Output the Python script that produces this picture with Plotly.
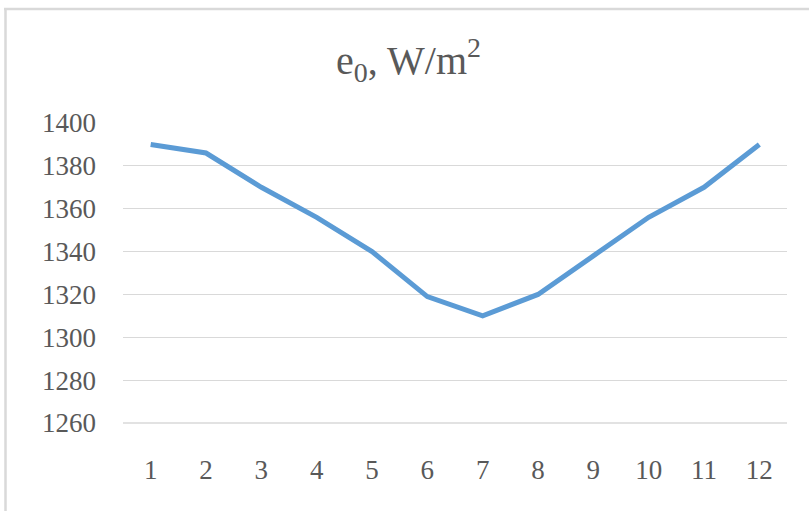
import plotly.graph_objects as go

# Monthly extraterrestrial irradiance
months = ["1", "2", "3", "4", "5", "6", "7", "8", "9", "10", "11", "12"]
irradiance = [1390, 1386, 1370, 1356, 1340, 1319, 1310, 1320, 1338, 1356, 1370, 1390]
y_ticks = [1260, 1280, 1300, 1320, 1340, 1360, 1380, 1400]

W, H = 809, 511
ML, MR, MT, MB = 123, 22, 123, 88
pw, ph = W - ML - MR, H - MT - MB

def px_x(x):
    return (x - ML) / pw

def px_y(y):
    return (H - MB - y) / ph

fig = go.Figure()
fig.add_trace(go.Scatter(
    x=months, y=irradiance, mode="lines",
    line=dict(color="#5B9BD5", width=5),
    hoverinfo="x+y",
))

font_family = "Liberation Serif"
border = "#D9D9D9"

fig.update_layout(
    width=W, height=H,
    margin=dict(l=ML, r=MR, t=MT, b=MB),
    paper_bgcolor="white", plot_bgcolor="white",
    showlegend=False,
    title=dict(
        text="e<sub>0</sub>, W/m<sup>2</sup>",
        font=dict(family=font_family, size=40, color="#595959"),
        x=0.505, xanchor="center", xref="container",
        y=1 - 60 / H, yanchor="middle", yref="container",
    ),
    xaxis=dict(
        type="category",
        range=[-0.5, len(months) - 0.5],
        showgrid=False, zeroline=False, showline=False,
        ticks="", ticklabelstandoff=28,
        tickfont=dict(family=font_family, size=27, color="#595959"),
    ),
    yaxis=dict(
        range=[1260, 1400],
        tickvals=y_ticks,
        showgrid=True, gridcolor="#D9D9D9", gridwidth=1.3,
        zeroline=False, showline=False,
        ticks="", ticklabelstandoff=26,
        tickfont=dict(family=font_family, size=27, color="#595959"),
    ),
    shapes=[
        dict(type="line", xref="paper", yref="paper",
             x0=px_x(4), x1=px_x(812), y0=px_y(9), y1=px_y(9),
             line=dict(color=border, width=2.5)),
        dict(type="line", xref="paper", yref="paper",
             x0=px_x(5.5), x1=px_x(5.5), y0=px_y(8), y1=px_y(515),
             line=dict(color=border, width=2.5)),
        dict(type="line", xref="paper", yref="paper",
             x0=0, x1=1, y0=0, y1=0,
             line=dict(color="#D9D9D9", width=1.3)),
    ],
)

fig.write_html("out.html")
